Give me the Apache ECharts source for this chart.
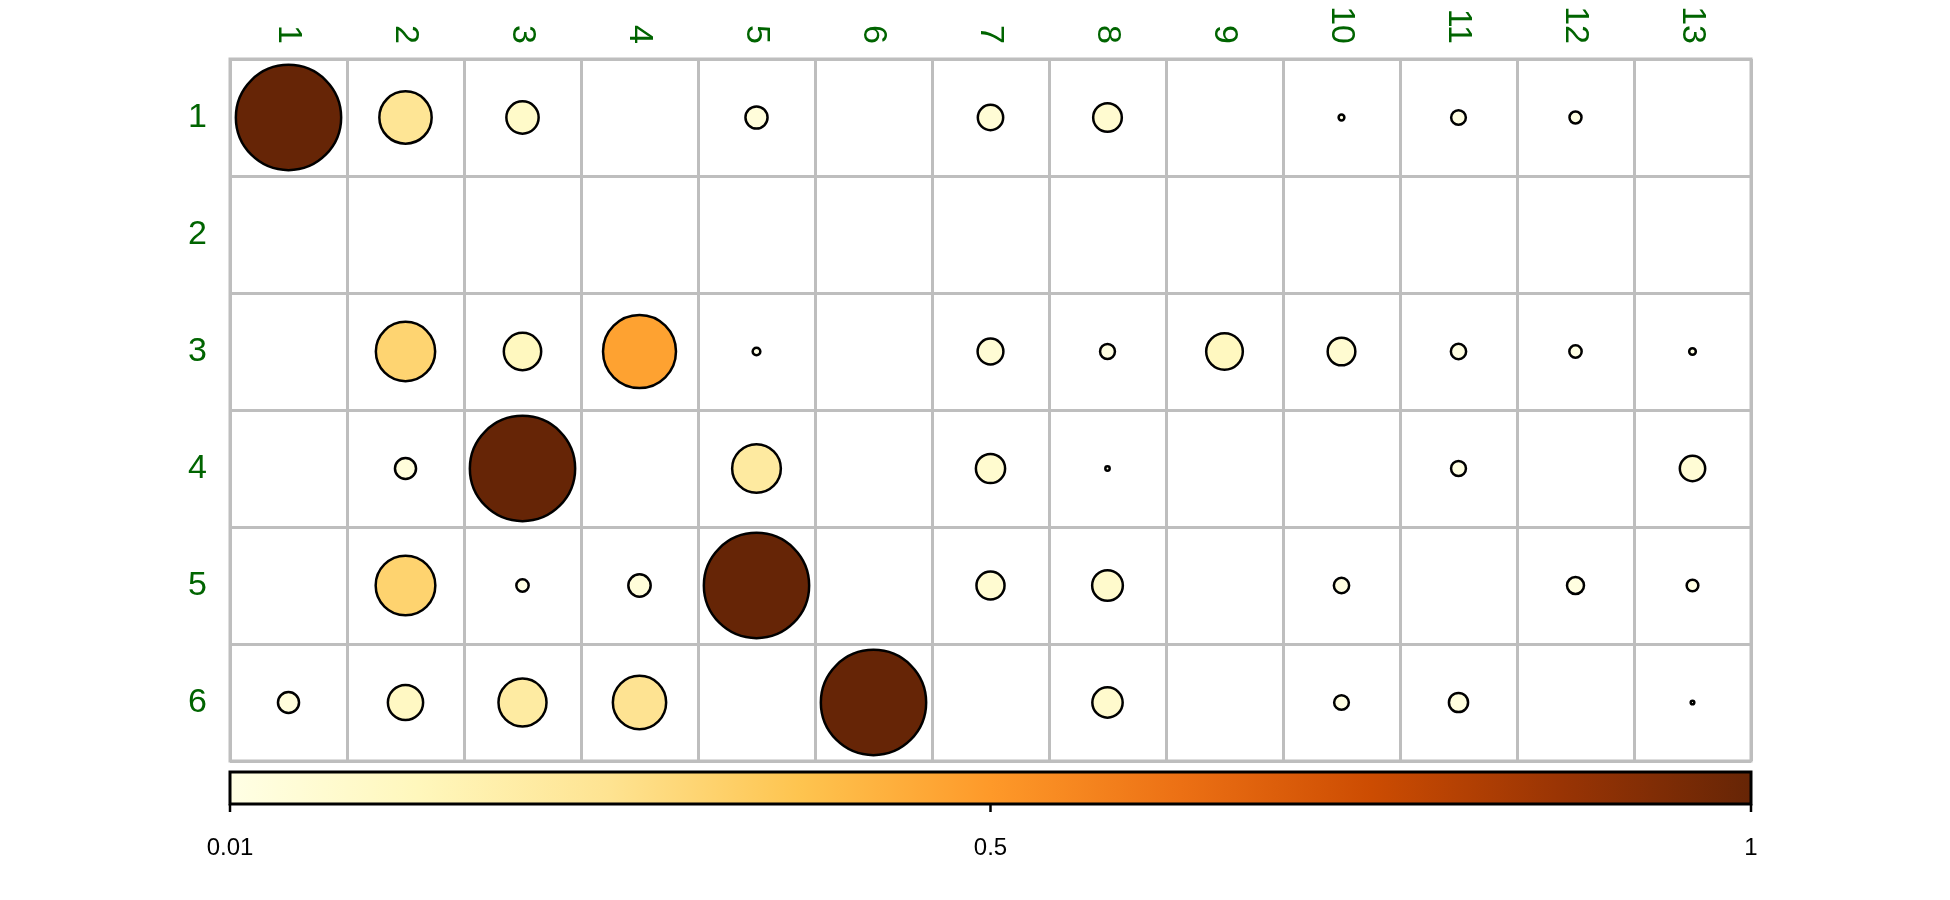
<!DOCTYPE html>
<html>
<head>
<meta charset="utf-8">
<script src="https://cdn.jsdelivr.net/npm/echarts@6/dist/echarts.min.js"></script>
<style>
html,body{margin:0;padding:0;background:#fff;}
#chart{width:1950px;height:900px;}
</style>
</head>
<body>
<div id="chart"></div>
<script>
// ---- data ----
var colLabels = ['1','2','3','4','5','6','7','8','9','10','11','12','13'];
var rowLabels = ['1','2','3','4','5','6'];
var row1 = [1, 0.247, 0.094, null, 0.044, null, 0.058, 0.074, null, 0.003, 0.0195, 0.013, null];
var row2 = [null, null, null, null, null, null, null, null, null, null, null, null, null];
var row3 = [null, 0.317, 0.126, 0.48, 0.0053, null, 0.060, 0.020, 0.121, 0.069, 0.021, 0.0137, 0.004];
var row4 = [null, 0.040, 1, null, 0.214, null, 0.077, 0.0017, null, null, 0.020, null, 0.058];
var row5 = [null, 0.321, 0.0137, 0.045, 1, null, 0.071, 0.085, null, 0.021, null, 0.026, 0.0123];
var row6 = [0.040, 0.112, 0.208, 0.256, null, 1, null, 0.083, null, 0.0195, 0.033, null, 0.0012];
var colorMin = 0.01, colorMax = 1;
var colorbarLabels = ['0.01', '0.5', '1'];
var palette = ['#FFFFE5','#FFF7BC','#FEE391','#FEC44F','#FE9929','#EC7014','#CC4C02','#993404','#662506'];

// ---- layout ----
var gridLeft = 230, gridTop = 59, gridW = 1521, gridH = 702;
var cell = gridW / colLabels.length;
var barTop = 772, barH = 32;
var font = '"Liberation Sans", Arial, sans-serif';

var rows = [row1, row2, row3, row4, row5, row6];
var data = [];
rows.forEach(function (r, ri) {
  r.forEach(function (v, ci) {
    if (v !== null) data.push([ci, ri, v]);
  });
});

var stops = palette.map(function (c, i) { return { offset: i / (palette.length - 1), color: c }; });
var graphics = [{
  type: 'rect',
  shape: { x: gridLeft, y: barTop, width: gridW, height: barH },
  style: { fill: new echarts.graphic.LinearGradient(0, 0, 1, 0, stops), stroke: '#000', lineWidth: 3 },
  z: 10
}];
colorbarLabels.forEach(function (t, i) {
  var x = gridLeft + gridW * i / (colorbarLabels.length - 1);
  graphics.push({
    type: 'line',
    shape: { x1: x, y1: barTop + barH, x2: x, y2: barTop + barH + 8 },
    style: { stroke: '#000', lineWidth: 2.5 },
    z: 10
  });
  graphics.push({
    type: 'text',
    x: x, y: 848,
    style: { text: t, fill: '#000', font: '24px ' + font, align: 'center', verticalAlign: 'middle' },
    z: 10
  });
});

var chart = echarts.init(document.getElementById('chart'), null, { renderer: 'canvas' });
chart.setOption({
  backgroundColor: '#fff',
  animation: false,
  grid: {
    left: gridLeft, top: gridTop, width: gridW, height: gridH,
    show: true, borderColor: '#BEBEBE', borderWidth: 3, backgroundColor: 'transparent'
  },
  xAxis: {
    type: 'category', data: colLabels, position: 'top',
    axisLine: { show: false }, axisTick: { show: false },
    axisLabel: { rotate: 90, color: '#006400', fontSize: 34, margin: 15, fontFamily: font },
    splitLine: { show: true, lineStyle: { color: '#BEBEBE', width: 3 } }
  },
  yAxis: {
    type: 'category', data: rowLabels, inverse: true,
    axisLine: { show: false }, axisTick: { show: false },
    axisLabel: { color: '#006400', fontSize: 34, margin: 23, fontFamily: font },
    splitLine: { show: true, lineStyle: { color: '#BEBEBE', width: 3 } }
  },
  visualMap: {
    show: false, type: 'continuous', dimension: 2, min: colorMin, max: colorMax,
    inRange: { color: palette }, seriesIndex: 0
  },
  series: [{
    type: 'scatter',
    data: data,
    symbol: 'circle',
    symbolSize: function (val) { return cell * 0.9 * Math.sqrt(val[2]); },
    itemStyle: { borderColor: '#000', borderWidth: 2.5, opacity: 1 },
    z: 5
  }],
  graphic: graphics
});
</script>
</body>
</html>
